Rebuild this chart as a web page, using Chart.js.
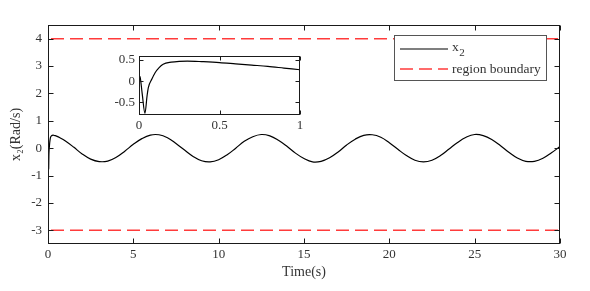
<!DOCTYPE html>
<html>
<head>
<meta charset="utf-8">
<script src="https://cdn.jsdelivr.net/npm/chart.js@4.4.1/dist/chart.umd.min.js"></script>
<style>
  html,body{margin:0;padding:0;background:#fff;}
  #wrap{position:relative;width:590px;height:291px;}
  #main{position:absolute;left:0;top:0;}
  #inset{position:absolute;left:95px;top:44px;}
</style>
</head>
<body>
<div id="wrap">
  <canvas id="main" width="590" height="291"></canvas>
  <canvas id="inset" width="215" height="96"></canvas>
</div>
<script>
// ---- data ----
const timeMain = [0, 0.003, 0.008, 0.02, 0.037, 0.05, 0.058, 0.08, 0.1, 0.125, 0.15, 0.2, 0.25, 0.3, 0.4, 0.5, 0.7, 1,
  1.5, 2, 2.5, 3, 3.5, 4, 4.5, 5, 5.5, 6, 6.5, 7, 7.5, 8, 8.5, 9, 9.5, 10, 10.5, 11, 11.5, 12, 12.5, 13, 13.5, 14, 14.5,
  15, 15.5, 16, 16.5, 17, 17.5, 18, 18.5, 19, 19.5, 20, 20.5, 21, 21.5, 22, 22.5, 23, 23.5, 24, 24.5, 25, 25.5, 26, 26.5,
  27, 27.5, 28, 28.5, 29, 29.5, 30];
const x2Main = [0, 0.12, 0.08, -0.3, -0.76, -0.35, -0.15, 0.05, 0.2, 0.32, 0.4, 0.45, 0.47, 0.475, 0.46, 0.44, 0.38, 0.27,
  0.04, -0.21, -0.40, -0.49, -0.47, -0.33, -0.11, 0.14, 0.35, 0.48, 0.49, 0.38, 0.17, -0.07, -0.30, -0.46, -0.50, -0.42, -0.24,
  0.00, 0.25, 0.42, 0.50, 0.45, 0.29, 0.07, -0.18, -0.38, -0.50, -0.48, -0.35, -0.14, 0.12, 0.33, 0.47, 0.49, 0.40, 0.20,
  -0.04, -0.27, -0.44, -0.50, -0.44, -0.27, -0.03, 0.21, 0.40, 0.50, 0.46, 0.32, 0.10, -0.15, -0.36, -0.48, -0.48, -0.37,
  -0.17, 0.06];
const timeInset = [0, 0.003, 0.008, 0.02, 0.037, 0.05, 0.058, 0.08, 0.1, 0.125, 0.15, 0.2, 0.25, 0.3, 0.4, 0.5, 0.6, 0.7, 0.8, 0.9, 1];
const x2Inset = [0, 0.12, 0.08, -0.3, -0.76, -0.35, -0.15, 0.05, 0.2, 0.32, 0.4, 0.45, 0.47, 0.475, 0.46, 0.44, 0.41, 0.38, 0.35, 0.31, 0.27];
const boundaryTime = [0, 30];
const upperBoundary = [4, 4];
const lowerBoundary = [-3, -3];
const mainXTicks = [0, 5, 10, 15, 20, 25, 30];
const mainYTicks = [-3, -2, -1, 0, 1, 2, 3, 4];
const insetXTicks = [0, 0.5, 1];
const insetYTicks = [-0.5, 0, 0.5];
const seriesLabels = ['x2', 'region boundary'];
const axisTitles = {x: 'Time(s)', y: 'x\u2082(Rad/s)'};

// ---- styling ----
const FONT = '"Liberation Serif", "Times New Roman", serif';
const TXT = '#333333';
const AX = '#1a1a1a';
const RED = '#ff3b3b';
const DASH = [13, 6];

function pts(xs, ys) { return xs.map((x, i) => ({x: x, y: ys[i]})); }
const fmt = v => String(v);

function boxTicksPlugin(len) {
  return {
    id: 'boxTicks',
    afterDraw(chart) {
      const ctx = chart.ctx, a = chart.chartArea;
      const sx = chart.scales.x, sy = chart.scales.y;
      const L = Math.round(a.left) + 0.5, R = Math.round(a.right) - 0.5;
      const T = Math.round(a.top) + 0.5, B = Math.round(a.bottom) - 0.5;
      ctx.save();
      ctx.strokeStyle = AX; ctx.lineWidth = 1;
      ctx.strokeRect(L, T, R - L, B - T);
      ctx.beginPath();
      sx.ticks.forEach(t => {
        const px = Math.round(sx.getPixelForValue(t.value)) + 0.5;
        ctx.moveTo(px, B); ctx.lineTo(px, B - len);
        ctx.moveTo(px, T); ctx.lineTo(px, T + len);
      });
      sy.ticks.forEach(t => {
        const py = Math.round(sy.getPixelForValue(t.value)) + 0.5;
        ctx.moveTo(L, py); ctx.lineTo(L + len, py);
        ctx.moveTo(R, py); ctx.lineTo(R - len, py);
      });
      ctx.stroke();
      ctx.restore();
    }
  };
}

const legendPlugin = {
  id: 'boxLegend',
  afterDraw(chart) {
    const ctx = chart.ctx, a = chart.chartArea;
    const right = a.right - 14, left = right - 152, top = a.top + 10, bottom = top + 45;
    ctx.save();
    ctx.fillStyle = '#fff';
    ctx.fillRect(left, top, right - left, bottom - top);
    ctx.strokeStyle = '#555'; ctx.lineWidth = 1;
    ctx.strokeRect(left + 0.5, top + 0.5, right - left, bottom - top);
    const y1 = top + 14, y2 = top + 34;
    ctx.beginPath(); ctx.strokeStyle = '#000'; ctx.lineWidth = 1.2;
    ctx.moveTo(left + 6, y1); ctx.lineTo(left + 54, y1); ctx.stroke();
    ctx.beginPath(); ctx.strokeStyle = RED; ctx.lineWidth = 1.5; ctx.setLineDash(DASH);
    ctx.moveTo(left + 6, y2); ctx.lineTo(left + 54, y2); ctx.stroke();
    ctx.setLineDash([]);
    ctx.fillStyle = TXT; ctx.textBaseline = 'middle'; ctx.textAlign = 'left';
    ctx.font = '13.5px ' + FONT;
    const lab = seriesLabels[0];
    ctx.fillText(lab.charAt(0), left + 58, y1 - 2);
    const w = ctx.measureText(lab.charAt(0)).width;
    ctx.font = '11px ' + FONT;
    ctx.fillText(lab.slice(1), left + 58 + w + 0.5, y1 + 4);
    ctx.font = '13.5px ' + FONT;
    ctx.fillText(seriesLabels[1], left + 58, y2);
    ctx.restore();
  }
};

const gridOff = {display: false, drawTicks: false, tickLength: 0};

new Chart(document.getElementById('main'), {
  type: 'line',
  data: {
    datasets: [
      {label: seriesLabels[0], data: pts(timeMain, x2Main), borderColor: '#000', borderWidth: 1.2,
       pointRadius: 0, tension: 0.4, fill: false},
      {label: seriesLabels[1], data: pts(boundaryTime, upperBoundary), borderColor: RED, borderWidth: 1.5,
       borderDash: DASH, borderDashOffset: -3, pointRadius: 0, fill: false},
      {label: seriesLabels[1] + ' ', data: pts(boundaryTime, lowerBoundary), borderColor: RED, borderWidth: 1.5,
       borderDash: DASH, borderDashOffset: -3, pointRadius: 0, fill: false}
    ]
  },
  options: {
    responsive: false, animation: false, devicePixelRatio: 1,
    layout: {padding: {top: 25, right: 30, left: 0, bottom: 0}},
    plugins: {legend: {display: false}, tooltip: {enabled: false}},
    scales: {
      x: {type: 'linear', min: 0, max: 30,
          afterBuildTicks: s => { s.ticks = mainXTicks.map(v => ({value: v})); },
          afterFit: s => { s.height = 47; },
          grid: gridOff, border: {display: false},
          ticks: {color: TXT, font: {family: FONT, size: 13}, padding: 3, maxRotation: 0, callback: fmt},
          title: {display: true, text: axisTitles.x, color: TXT, font: {family: FONT, size: 14}, padding: {top: 0, bottom: 10}}},
      y: {type: 'linear', min: -3.5, max: 4.5,
          afterBuildTicks: s => { s.ticks = mainYTicks.map(v => ({value: v})); },
          afterFit: s => { s.width = 48; },
          grid: gridOff, border: {display: false},
          ticks: {color: TXT, font: {family: FONT, size: 13}, padding: 6, callback: fmt},
          title: {display: true, text: axisTitles.y, color: TXT, font: {family: FONT, size: 14}, padding: {top: 8, bottom: 0}}}
    }
  },
  plugins: [boxTicksPlugin(5), legendPlugin]
});

new Chart(document.getElementById('inset'), {
  type: 'line',
  data: {
    datasets: [
      {label: seriesLabels[0], data: pts(timeInset, x2Inset), borderColor: '#000', borderWidth: 1.2,
       pointRadius: 0, cubicInterpolationMode: 'monotone', fill: false}
    ]
  },
  options: {
    responsive: false, animation: false, devicePixelRatio: 1,
    layout: {padding: {top: 6, right: 10, left: 0, bottom: 0}},
    plugins: {legend: {display: false}, tooltip: {enabled: false}},
    scales: {
      x: {type: 'linear', min: 0, max: 1,
          afterBuildTicks: s => { s.ticks = insetXTicks.map(v => ({value: v})); },
          afterFit: s => { s.height = 25; },
          grid: gridOff, border: {display: false},
          ticks: {color: TXT, font: {family: FONT, size: 13}, padding: 3, maxRotation: 0, callback: fmt}},
      y: {type: 'linear', min: -0.8, max: 0.6,
          afterBuildTicks: s => { s.ticks = insetYTicks.map(v => ({value: v})); },
          afterFit: s => { s.width = 44; },
          grid: gridOff, border: {display: false},
          ticks: {color: TXT, font: {family: FONT, size: 13}, padding: 4, callback: fmt}}
    }
  },
  plugins: [boxTicksPlugin(4)]
});
</script>
</body>
</html>
